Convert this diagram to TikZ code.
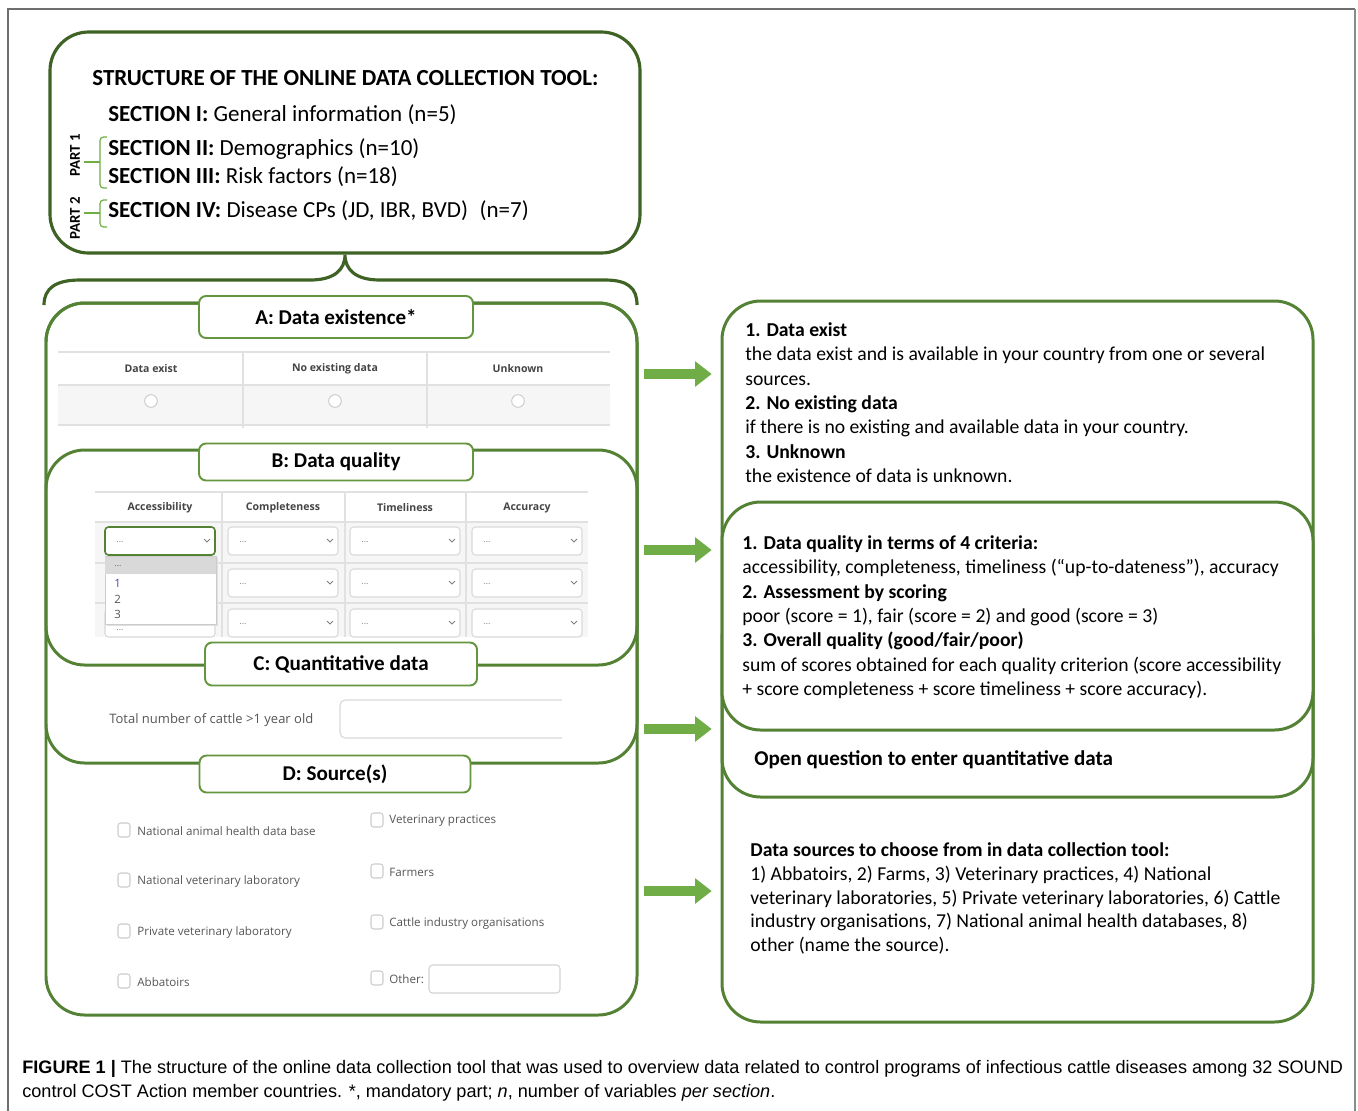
\documentclass[tikz,border=0pt]{standalone}
\usepackage{fontspec}
\setmainfont{Carlito}
\newfontfamily\webfont{Open Sans}
\newfontfamily\capfont{Liberation Sans}
\definecolor{topgreen}{RGB}{62, 99, 37}
\definecolor{boxgreen}{RGB}{84, 130, 53}
\definecolor{tabgreen}{RGB}{100, 150, 62}
\definecolor{arrowgreen}{RGB}{112, 173, 71}
\definecolor{gridgray}{RGB}{225, 225, 225}
\definecolor{rowgray}{RGB}{246, 246, 246}
\definecolor{webtext}{RGB}{85, 85, 85}
\definecolor{framegray}{RGB}{110, 110, 110}
\usetikzlibrary{arrows.meta, positioning, calc, fit}

\begin{document}
\begin{tikzpicture}[x=0.02cm, y=-0.02cm,
  bigbox/.style={draw=boxgreen, line width=1.7pt, rounded corners=22pt, inner sep=0pt},
  tabbox/.style={draw=tabgreen, fill=white, line width=1.1pt, rounded corners=4pt, font=\bfseries\fontsize{12}{14}\selectfont},
  secline/.style={anchor=west, inner sep=0pt, font=\fontsize{13.1}{15}\selectfont},
  infotext/.style={anchor=north west, inner sep=0pt, align=left, font=\fontsize{11.2}{13.9}\selectfont},
  webhead/.style={inner sep=0pt, text=webtext!80!black, font=\webfont\bfseries\fontsize{6}{7}\selectfont},
  weblabel/.style={anchor=west, inner sep=0pt, text=webtext, font=\webfont\fontsize{6.6}{8}\selectfont},
  blockarrow/.style={arrowgreen, line width=6pt, -{Triangle[length=9.5pt, width=14pt]}, shorten <=3pt, shorten >=5pt}]
  \useasboundingbox (0,0) rectangle (1358,1110);

  % page frame
  \draw[framegray, line width=0.8pt] (8,1115) -- (8,9) -- (1355,9);
  \draw[framegray!80, line width=1.4pt] (1355,9) -- (1355,1115);

  % Structure of the tool
  \node[fit={(50,32) (640,253)}, draw=topgreen, line width=1.8pt, rounded corners=22pt, inner sep=0pt] (structbox) {};
  \node[anchor=west, inner sep=0pt, font=\bfseries\fontsize{13.1}{15}\selectfont] (title) at (92,78) {STRUCTURE OF THE ONLINE DATA COLLECTION TOOL:};
  \node[secline] (sec1) at (108,115) {\textbf{SECTION I:} General information (n=5)};
  \node[secline] (sec2) at (108,149) {\textbf{SECTION II:} Demographics (n=10)};
  \node[secline] (sec3) at (108,177) {\textbf{SECTION III:} Risk factors (n=18)};
  \node[secline] (sec4) at (108,211) {\textbf{SECTION IV:} Disease CPs (JD, IBR, BVD)\enspace(n=7)};
  \node[rotate=90, inner sep=0pt, font=\bfseries\fontsize{8.5}{10}\selectfont] (part1) at (75,155) {PART 1};
  \node[rotate=90, inner sep=0pt, font=\bfseries\fontsize{8.5}{10}\selectfont] (part2) at (75,218) {PART 2};
  \draw[arrowgreen, line width=0.7pt, rounded corners=2pt] (107,137) -| (100,162) |- (107,188);
  \draw[arrowgreen, line width=0.7pt] (100,162) -- (84,162);
  \draw[arrowgreen, line width=0.7pt, rounded corners=2pt] (107,200) -| (100,213) |- (107,227);
  \draw[arrowgreen, line width=0.7pt] (100,213) -- (84,213);

  % brace under the structure box
  \draw[topgreen, line width=1.8pt] (44,305) .. controls (44,288) and (56,280) .. (80,280) -- (310,280)
    .. controls (334,280) and (345,270) .. (structbox.south)
    .. controls (345,270) and (356,280) .. (380,280) -- (605,280)
    .. controls (628,280) and (637,288) .. (637,305);

  % left side: the tool sections
  \node[bigbox, fit={(46,303) (637,1015)}] (srcbox) {};
  \node[bigbox, fit={(46,303) (637,763)}] (existbox) {};
  \node[bigbox, fit={(46,450) (637,665)}] (qualbox) {};

  % A: data existence table
  \fill[rowgray] (58,385) rectangle (610,425);
  \draw[gridgray, line width=0.6pt] (58,352) -- (610,352) (58,385) -- (610,385) (58,425) -- (610,425)
    (243,352) -- (243,428) (427,352) -- (427,428);
  \foreach \name/\cx/\txt in {exist/151/Data exist, noexist/335/No existing data, unknown/518/Unknown} {
    \node[webhead] (head-\name) at (\cx,369) {\txt};
    \draw[gray!45, fill=white, line width=0.5pt] (\cx,401) circle[radius=3.6pt];
  }

  % B: data quality table
  \fill[rowgray] (95,522) rectangle (588,637);
  \draw[gridgray, line width=0.6pt] (95,492) -- (588,492) (95,522) -- (588,522) (95,563) -- (588,563) (95,603) -- (588,603)
    (222,492) -- (222,637) (345,492) -- (345,637) (466,492) -- (466,637);
  \foreach \name/\cx/\txt in {acc/160/Accessibility, compl/283/Completeness, time/405/Timeliness, accur/527/Accuracy}
    \node[webhead] (head-\name) at (\cx,508) {\txt};
  \foreach \cx/\ry/\dy [count=\k] in {160/541/1, 283/541/1, 405/541/1, 527/541/1, 283/583/1, 405/583/1, 527/583/1,
      160/623/7, 283/623/1, 405/623/1, 527/623/1} {
    \draw[gray!30, fill=white, line width=0.6pt, rounded corners=2pt] (\cx-55,\ry-14) rectangle (\cx+55,\ry+14);
    \node[inner sep=0pt, text=gray, font=\webfont\fontsize{5}{6}\selectfont] (dot-\k) at (\cx-40,\ry+\dy) {...};
    \draw[gray, line width=0.5pt] (\cx+44,\ry-2) -- (\cx+47,\ry+1) -- (\cx+50,\ry-2);
  }
  \draw[boxgreen, line width=0.9pt, rounded corners=2pt] (105,527) rectangle (215,555);
  % open drop-down list
  \fill[gray!25] (107,558) rectangle (218,626);
  \draw[gray!40, fill=white, line width=0.4pt] (105,556) rectangle (216,624);
  \fill[gray!30] (105,557) rectangle (216,574);
  \node[inner sep=0pt, text=gray!80!black, font=\webfont\fontsize{5}{6}\selectfont] (opt0) at (118,566) {...};
  \node[anchor=west, inner sep=0pt, text=blue!45!gray, font=\webfont\fontsize{6.5}{7}\selectfont] (opt1) at (114,583) {1};
  \node[anchor=west, inner sep=0pt, text=webtext, font=\webfont\fontsize{6.5}{7}\selectfont] (opt2) at (114,599) {2};
  \node[anchor=west, inner sep=0pt, text=webtext, font=\webfont\fontsize{6.5}{7}\selectfont] (opt3) at (114,614) {3};

  % C: quantitative data field
  \node[weblabel, font=\webfont\fontsize{7.4}{9}\selectfont] (cattle) at (109,720) {Total number of cattle >1 year old};
  \draw[gray!30, line width=0.7pt, rounded corners=3pt] (562,700) -- (340,700) -- (340,738) -- (562,738);

  % D: source check boxes
  \foreach \i/\ry/\txt in {1/831/National animal health data base, 2/881/National veterinary laboratory, 3/932/Private veterinary laboratory, 4/982/Abbatoirs} {
    \draw[gray!40, fill=white, line width=0.6pt, rounded corners=1.5pt] (118,\ry-8) rectangle (130,\ry+6);
    \node[weblabel] (srcL-\i) at (137,\ry) {\txt};
  }
  \foreach \i/\ry/\txt in {1/821/Veterinary practices, 2/872/Farmers, 3/923/Cattle industry organisations, 4/979/Other:} {
    \draw[gray!40, fill=white, line width=0.6pt, rounded corners=1.5pt] (371,\ry-8) rectangle (383,\ry+6);
    \node[weblabel] (srcR-\i) at (389,\ry) {\txt};
  }
  \draw[gray!35, line width=0.6pt, rounded corners=2pt] (429,965) rectangle (560,993);

  % section tabs
  \node[tabbox, minimum width=5.48cm, minimum height=0.84cm] (tabA) at (336,317) {A: Data existence*};
  \node[tabbox, minimum width=5.48cm, minimum height=0.74cm] (tabB) at (336,462) {B: Data quality};
  \node[tabbox, minimum width=5.44cm, minimum height=0.86cm] (tabC) at (341,664) {C: Quantitative data};
  \node[tabbox, minimum width=5.42cm, minimum height=0.74cm] (tabD) at (335,774) {D: Source(s)};

  % right side: explanations
  \node[bigbox, fit={(722,301) (1313,1022)}] (infobox) {};
  \node[bigbox, fit={(722,600) (1313,797)}] (openbox) {};
  \node[bigbox, fill=white, fit={(722,502) (1313,730)}] (scorebox) {};

  \node[infotext] (existtxt) at (745,322) {\textbf{1. Data exist}\\
    the data exist and is available in your country from one or several\\
    sources.\\
    \textbf{2. No existing data}\\
    if there is no existing and available data in your country.\\
    \textbf{3. Unknown}\\
    the existence of data is unknown.};
  \node[infotext] (scoretxt) at (742,535) {\textbf{1. Data quality in terms of 4 criteria:}\\
    accessibility, completeness, timeliness (“up-to-dateness”), accuracy\\
    \textbf{2. Assessment by scoring}\\
    poor (score = 1), fair (score = 2) and good (score = 3)\\
    \textbf{3. Overall quality (good/fair/poor)}\\
    sum of scores obtained for each quality criterion (score accessibility\\
    + score completeness + score timeliness + score accuracy).};
  \node[anchor=west, inner sep=0pt, font=\bfseries\fontsize{12}{14}\selectfont] (opentxt) at (754,760) {Open question to enter quantitative data};
  \node[infotext, font=\fontsize{11.2}{13.6}\selectfont] (srctxt) at (750,842) {\textbf{Data sources to choose from in data collection tool:}\\
    1) Abbatoirs, 2) Farms, 3) Veterinary practices, 4) National\\
    veterinary laboratories, 5) Private veterinary laboratories, 6) Cattle\\
    industry organisations, 7) National animal health databases, 8)\\
    other (name the source).};

  % arrows
  \coordinate (arrA) at (0,374);
  \coordinate (arrB) at (0,550);
  \coordinate (arrC) at (0,729);
  \coordinate (arrD) at (0,891);
  \foreach \a in {arrA, arrB, arrC, arrD}
    \draw[blockarrow] (srcbox.east |- \a) -- (infobox.west |- \a);

  % caption
  \node[anchor=west, inner sep=0pt, font=\capfont\fontsize{10.3}{12}\selectfont] (cap1) at (22,1069) {\textbf{FIGURE 1 |} The structure of the online data collection tool that was used to overview data related to control programs of infectious cattle diseases among 32 SOUND};
  \node[anchor=west, inner sep=0pt, font=\capfont\fontsize{10.3}{12}\selectfont] (cap2) at (22,1093) {control COST Action member countries. *, mandatory part; \textit{n}, number of variables \textit{per section}.};
\end{tikzpicture}
\end{document}
